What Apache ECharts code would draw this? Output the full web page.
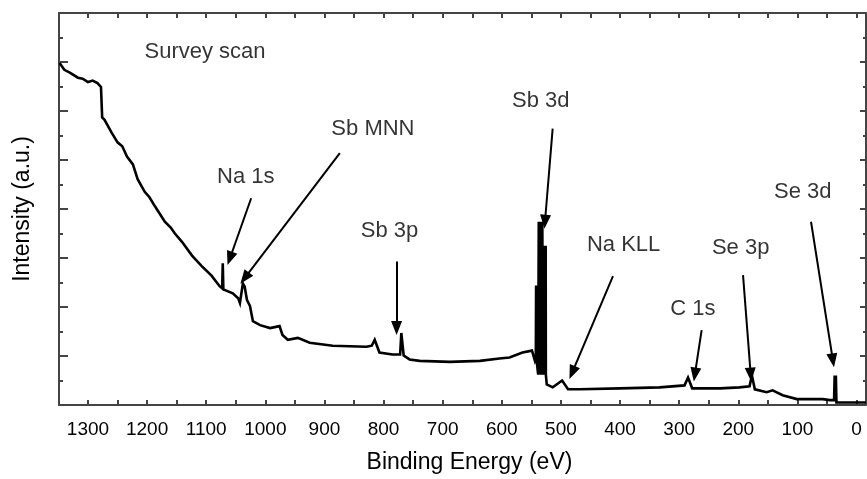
<!DOCTYPE html>
<html>
<head>
<meta charset="utf-8">
<script src="https://cdn.jsdelivr.net/npm/echarts@6/dist/echarts.min.js"></script>
<style>
html,body{margin:0;padding:0;background:#fff;}
#chart{width:867px;height:479px;}
</style>
</head>
<body>
<div id="chart"></div>
<script>
// Binding energy (eV) of each sampled point of the survey spectrum
const energy = [1348,1340,1330,1317,1309,1300,1292,1284,1278,1276,1272,1260,1250,1242,1234,1224,1216,1204,1196,1187,1170,1160,1153,1141,1124,1108,1091,1077,1073,1072,1071,1069,1055,1046,1043,1038,1035,1031,1026,1021,1009,992,976,971,962,945,925,886,829,820,815,807,785,772,770,766,756,739,688,637,604,587,565,549,544,542.5,542,541.5,539.5,538.5,537.5,536.5,535.5,534.5,533.5,532.5,531.5,530.5,529.5,528.5,527.5,526.5,525.8,525.5,524,514,498,488,468,400,333,291,285,278,231,198,181,177,172,152,142,125,101,57,45,38,37,36,35,34,28,-16];
// Intensity (a.u.) at each energy
const intensity = [6.98,6.84,6.78,6.68,6.66,6.59,6.62,6.57,6.49,5.87,5.82,5.56,5.36,5.28,5.07,4.91,4.61,4.35,4.24,4.06,3.74,3.62,3.50,3.33,3.05,2.84,2.64,2.42,2.38,2.89,2.36,2.34,2.28,2.18,2.08,2.48,2.42,2.14,2.02,1.71,1.63,1.57,1.61,1.43,1.33,1.37,1.27,1.21,1.19,1.21,1.33,1.07,1.03,1.03,1.47,1.01,0.93,0.90,0.88,0.90,0.95,0.97,1.07,1.11,0.90,0.95,2.44,0.95,0.95,0.62,3.74,0.62,3.74,0.62,3.74,0.62,3.74,0.62,3.25,0.62,3.25,0.62,3.25,0.62,0.42,0.36,0.50,0.32,0.32,0.34,0.36,0.40,0.56,0.34,0.34,0.36,0.38,0.60,0.32,0.26,0.30,0.20,0.12,0.12,0.10,0.10,0.60,0.10,0.60,0.05,0.05,0.05];

// Axis ticks / labels
const xTickValues = [0,50,100,150,200,250,300,350,400,450,500,550,600,650,700,750,800,850,900,950,1000,1050,1100,1150,1200,1250,1300];
const xLabelValues = [0,100,200,300,400,500,600,700,800,900,1000,1100,1200,1300];

// Annotations (data coordinates)
const annoNames = ['Survey scan','Na 1s','Sb MNN','Sb 3p','Sb 3d','Na KLL','C 1s','Se 3p','Se 3d'];
const annoLabelAt = [[1102,7.20],[1033,4.65],[818,5.64],[790,3.56],[534,6.21],[394,3.27],[277,1.96],[196,3.21],[91,4.35]];
const arrowFrom = [null,[1024,4.22],[874,5.14],[778,2.93],[514,5.64],[412,2.63],[262,1.53],[192,2.65],[77,3.74]];
const arrowTo = [null,[1060,2.99],[1035,2.59],[778,1.57],[527,3.74],[481,0.66],[273.5,0.62],[179,0.62],[40,0.91]];

const FONT = '"Liberation Sans", Arial, sans-serif';
const AXC = '#444';

const curve = energy.map((e, i) => [e, intensity[i]]);
const labelData = annoNames.map((n, i) => ({ name: n, value: annoLabelAt[i] }));
const arrowData = [];
for (let i = 0; i < annoNames.length; i++) {
  if (arrowFrom[i]) arrowData.push([{ coord: arrowFrom[i] }, { coord: arrowTo[i] }]);
}

const chart = echarts.init(document.getElementById('chart'), null, { renderer: 'canvas' });
chart.setOption({
  animation: false,
  backgroundColor: '#fff',
  grid: { left: 59, right: 1, top: 13, bottom: 71, containLabel: false },
  xAxis: [
    {
      type: 'value', inverse: true, min: -16, max: 1349, position: 'bottom',
      name: 'Binding Energy (eV)', nameLocation: 'middle', nameGap: 46,
      nameTextStyle: { fontFamily: FONT, fontSize: 23, color: '#000', padding: [0, 0, 0, 14] },
      axisLine: { show: true, onZero: false, lineStyle: { color: AXC, width: 2 } },
      axisTick: { show: true, inside: true, length: 5, customValues: xTickValues, lineStyle: { color: AXC, width: 2 } },
      axisLabel: { show: true, customValues: xLabelValues, formatter: v => String(v), fontFamily: FONT, fontSize: 19, color: '#000', margin: 15 },
      splitLine: { show: false }
    },
    {
      type: 'value', inverse: true, min: -16, max: 1349, position: 'top',
      axisLine: { show: true, onZero: false, lineStyle: { color: AXC, width: 2 } },
      axisTick: { show: true, inside: true, length: 5, customValues: xTickValues, lineStyle: { color: AXC, width: 2 } },
      axisLabel: { show: false },
      splitLine: { show: false }
    }
  ],
  yAxis: [
    {
      type: 'value', min: 0, max: 8, interval: 1, position: 'left',
      name: 'Intensity (a.u.)', nameLocation: 'middle', nameGap: 25,
      nameTextStyle: { fontFamily: FONT, fontSize: 23, color: '#000' },
      axisLine: { show: true, onZero: false, lineStyle: { color: AXC, width: 2 } },
      axisTick: { show: true, inside: true, length: 9, lineStyle: { color: AXC, width: 2 } },
      minorTick: { show: true, splitNumber: 2, length: 4, lineStyle: { color: AXC, width: 2 } },
      axisLabel: { show: false },
      splitLine: { show: false }, minorSplitLine: { show: false }
    },
    {
      type: 'value', min: 0, max: 8, interval: 1, position: 'right',
      axisLine: { show: true, onZero: false, lineStyle: { color: AXC, width: 2 } },
      axisTick: { show: true, inside: true, length: 6, lineStyle: { color: AXC, width: 2 } },
      minorTick: { show: true, splitNumber: 2, length: 3, lineStyle: { color: AXC, width: 2 } },
      axisLabel: { show: false },
      splitLine: { show: false }, minorSplitLine: { show: false }
    }
  ],
  series: [
    {
      type: 'line', xAxisIndex: 0, yAxisIndex: 0,
      data: curve, showSymbol: false, symbol: 'none', smooth: false,
      lineStyle: { color: '#000', width: 2.6, join: 'miter' },
      silent: true
    },
    {
      type: 'scatter', xAxisIndex: 0, yAxisIndex: 0,
      data: labelData, symbol: 'circle', symbolSize: 1,
      itemStyle: { color: 'transparent' },
      label: { show: true, position: 'inside', formatter: '{b}', fontFamily: FONT, fontSize: 22, color: '#000' },
      silent: true,
      markLine: {
        silent: true, animation: false,
        symbol: ['none', 'triangle'], symbolSize: [11, 14],
        lineStyle: { color: '#000', width: 2, type: 'solid' },
        label: { show: false },
        emphasis: { disabled: true },
        data: arrowData
      }
    }
  ]
});
</script>
</body>
</html>
